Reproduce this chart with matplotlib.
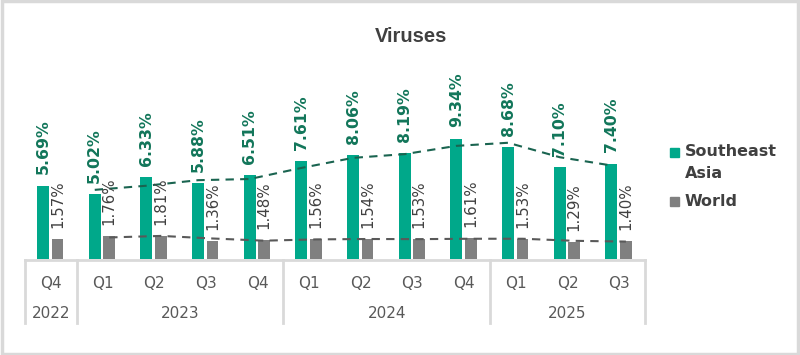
import matplotlib.pyplot as plt
from matplotlib.patches import Rectangle
from matplotlib.lines import Line2D

quarters = ["Q4", "Q1", "Q2", "Q3", "Q4", "Q1", "Q2", "Q3", "Q4", "Q1", "Q2", "Q3"]
years = ["2022", "2023", "2024", "2025"]
year_spans = [(0, 0), (1, 4), (5, 8), (9, 11)]
sea = [5.69, 5.02, 6.33, 5.88, 6.51, 7.61, 8.06, 8.19, 9.34, 8.68, 7.10, 7.40]
world = [1.57, 1.76, 1.81, 1.36, 1.48, 1.56, 1.54, 1.53, 1.61, 1.53, 1.29, 1.40]
# 2-period moving average trendlines
sea_trend = [5.36, 5.68, 6.11, 6.20, 7.06, 7.84, 8.13, 8.77, 9.01, 7.89, 7.25]
world_trend = [1.67, 1.79, 1.59, 1.42, 1.52, 1.55, 1.54, 1.57, 1.57, 1.41, 1.35]

GREEN = "#00A88A"
GREY = "#808080"
GREEN_TXT = "#12765A"
DARK = "#404040"
LINE = "#D9D9D9"

W, H = 800, 355
fig = plt.figure(figsize=(8, 3.55), dpi=100)

def fx(px):
    return px / W

def fy(py):
    return 1 - py / H

px_per_unit = 12.9
ymax = 13
left, right, base = 25, 645, 259
ax = fig.add_axes([fx(left), fy(base), fx(right - left), ymax * px_per_unit / H])
ax.set_xlim(-0.5, len(sea) - 0.5)
ax.set_ylim(0, ymax)
ax.axis("off")

x = list(range(len(sea)))
bw = 0.23
xg = [i - 0.15 for i in x]
xw = [i + 0.13 for i in x]
ax.bar(xg, sea, width=bw, color=GREEN, zorder=2)
ax.bar(xw, world, width=bw, color=GREY, zorder=2)

ax.plot(xg[1:], sea_trend, ls=(0, (4, 3)), color="#1A6450", lw=1.5, zorder=3)
ax.plot(xw[1:], world_trend, ls=(0, (4, 3)), color="#595959", lw=1.5, zorder=3)

for xi, v in zip(xg, sea):
    ax.annotate(f"{v:.2f}%", (xi, v), xytext=(0, 8), textcoords="offset points",
                rotation=90, ha="center", va="bottom", fontsize=11.3,
                fontweight="bold", color=GREEN_TXT, zorder=4)
for xi, v in zip(xw, world):
    ax.annotate(f"{v:.2f}%", (xi, v), xytext=(0, 8), textcoords="offset points",
                rotation=90, ha="center", va="bottom", fontsize=10.8,
                color=DARK, zorder=4)

# category axis box
cat_w = (right - left) / len(sea)
fig.add_artist(Line2D([fx(left), fx(right)], [fy(260), fy(260)], color=LINE, lw=2))
for i0, i1 in year_spans:
    xl = left + i0 * cat_w
    fig.add_artist(Line2D([fx(xl), fx(xl)], [fy(260), fy(323)], color=LINE, lw=2))
fig.add_artist(Line2D([fx(right), fx(right)], [fy(260), fy(323)], color=LINE, lw=2))

for i, q in enumerate(quarters):
    fig.text(fx(left + (i + 0.5) * cat_w), fy(283), q, ha="center", va="center",
             fontsize=11, color="#595959")
for (i0, i1), yr in zip(year_spans, years):
    xc = left + (i0 + i1 + 1) / 2 * cat_w
    fig.text(fx(xc), fy(313), yr, ha="center", va="center", fontsize=11, color="#595959")

# title
fig.text(fx(411), fy(36), "Viruses", ha="center", va="center", fontsize=14.5,
         fontweight="bold", family="Liberation Sans", color=DARK)

# legend
fig.add_artist(Rectangle((fx(670), fy(157)), fx(9), 9 / H, color=GREEN))
fig.text(fx(685), fy(152), "Southeast", ha="left", va="center", fontsize=11.5,
         fontweight="bold", color=DARK)
fig.text(fx(685), fy(173), "Asia", ha="left", va="center", fontsize=11.5,
         fontweight="bold", color=DARK)
fig.add_artist(Rectangle((fx(670), fy(206)), fx(9), 9 / H, color=GREY))
fig.text(fx(685), fy(201), "World", ha="left", va="center", fontsize=11.5,
         fontweight="bold", color=DARK)

# outer border
fig.add_artist(Rectangle((0.002, 0.003), 0.996, 0.994, fill=False, ec=LINE, lw=2.5))

fig.savefig("out.png", dpi=100)
